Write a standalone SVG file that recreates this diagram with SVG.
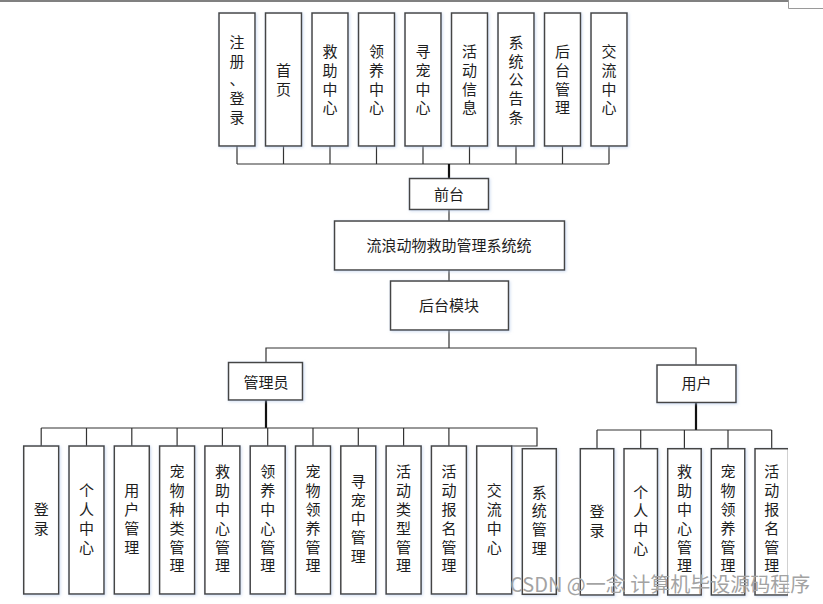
<svg xmlns="http://www.w3.org/2000/svg" width="823" height="604" viewBox="0 0 823 604">
<defs>
<filter id="sh" x="-20%" y="-20%" width="140%" height="140%">
<feDropShadow dx="1" dy="1" stdDeviation="1.6" flood-color="#a9c0e6" flood-opacity="0.55"/>
</filter>
<clipPath id="clipR"><rect x="0" y="0" width="788" height="604"/></clipPath>
</defs>
<style>
.b{fill:#ffffff;stroke:#454545;stroke-width:1.5;filter:url(#sh)}
.t{font-family:"Noto Sans CJK SC","Noto Sans CJK TC",sans-serif;font-size:15px;fill:#1e1e1e;text-anchor:middle}
.c{fill:none;stroke:#333;stroke-width:1.2}
.k{fill:none;stroke:#111;stroke-width:2.2}
.wm{font-family:"Noto Sans CJK SC","Noto Sans",sans-serif;font-size:20px;fill:#a3a3a3}
</style>
<rect width="823" height="604" fill="#ffffff"/>
<rect x="0" y="0" width="789" height="2" fill="#808080"/>
<path d="M788.5 0 V8.5 H823" fill="none" stroke="#9a9a9a" stroke-width="1"/>

<g id="connectors">
<path class="c" d="M237 146 V164 M283.5 146 V164 M330 146 V164 M376.5 146 V164 M423 146 V164 M469.5 146 V164 M516 146 V164 M562.5 146 V164 M609 146 V164 M237 164 H609"/>
<path class="k" d="M449 164 V178"/>
<path class="c" d="M449 209 V221 M449 270 V281 M449 330 V348 M266 362 V348 H696 V365"/>
<path class="k" d="M266 400 V428 M696 402 V430"/>
<path class="c" d="M41.2 428 H537 V446 H511 M41.2 428 V446 M86.5 428 V446 M131.8 428 V446 M177.1 428 V446 M222.4 428 V446 M267.7 428 V446 M313 428 V446 M358.3 428 V446 M403.6 428 V446 M448.9 428 V446"/>
<path class="c" d="M597 430 H771.7 M597 430 V448.7 M640.7 430 V448.7 M684.4 430 V448.7 M728 430 V448.7 M771.7 430 V448.7"/>
</g>

<g id="top-1"><rect class="b" x="219" y="13" width="36" height="133"/><text class="t"><tspan x="237" y="48">注</tspan><tspan x="237" y="66.7">册</tspan><tspan x="237" y="85.4">、</tspan><tspan x="237" y="104.1">登</tspan><tspan x="237" y="122.8">录</tspan></text></g>
<g id="top-2"><rect class="b" x="265.5" y="13" width="36" height="133"/><text class="t"><tspan x="283.5" y="76">首</tspan><tspan x="283.5" y="94.7">页</tspan></text></g>
<g id="top-3"><rect class="b" x="312" y="13" width="36" height="133"/><text class="t"><tspan x="330" y="57.3">救</tspan><tspan x="330" y="76">助</tspan><tspan x="330" y="94.7">中</tspan><tspan x="330" y="113.4">心</tspan></text></g>
<g id="top-4"><rect class="b" x="358.5" y="13" width="36" height="133"/><text class="t"><tspan x="376.5" y="57.3">领</tspan><tspan x="376.5" y="76">养</tspan><tspan x="376.5" y="94.7">中</tspan><tspan x="376.5" y="113.4">心</tspan></text></g>
<g id="top-5"><rect class="b" x="405" y="13" width="36" height="133"/><text class="t"><tspan x="423" y="57.3">寻</tspan><tspan x="423" y="76">宠</tspan><tspan x="423" y="94.7">中</tspan><tspan x="423" y="113.4">心</tspan></text></g>
<g id="top-6"><rect class="b" x="451.5" y="13" width="36" height="133"/><text class="t"><tspan x="469.5" y="57.3">活</tspan><tspan x="469.5" y="76">动</tspan><tspan x="469.5" y="94.7">信</tspan><tspan x="469.5" y="113.4">息</tspan></text></g>
<g id="top-7"><rect class="b" x="498" y="13" width="36" height="133"/><text class="t"><tspan x="516" y="48">系</tspan><tspan x="516" y="66.7">统</tspan><tspan x="516" y="85.4">公</tspan><tspan x="516" y="104.1">告</tspan><tspan x="516" y="122.8">条</tspan></text></g>
<g id="top-8"><rect class="b" x="544.5" y="13" width="36" height="133"/><text class="t"><tspan x="562.5" y="57.3">后</tspan><tspan x="562.5" y="76">台</tspan><tspan x="562.5" y="94.7">管</tspan><tspan x="562.5" y="113.4">理</tspan></text></g>
<g id="top-9"><rect class="b" x="591" y="13" width="36" height="133"/><text class="t"><tspan x="609" y="57.3">交</tspan><tspan x="609" y="76">流</tspan><tspan x="609" y="94.7">中</tspan><tspan x="609" y="113.4">心</tspan></text></g>

<g id="qiantai"><rect class="b" x="409.5" y="178.5" width="79" height="31"/><text class="t" x="449" y="199.5">前台</text></g>
<g id="system"><rect class="b" x="334.5" y="221" width="230" height="49"/><text class="t" x="449" y="251">流浪动物救助管理系统统</text></g>
<g id="houtai"><rect class="b" x="390.5" y="281" width="118" height="49"/><text class="t" x="449" y="311">后台模块</text></g>
<g id="admin"><rect class="b" x="228.5" y="362.5" width="74" height="37.5"/><text class="t" x="266" y="387.5">管理员</text></g>
<g id="user"><rect class="b" x="657" y="365" width="79" height="37.5"/><text class="t" x="696.5" y="389">用户</text></g>

<g id="a-1"><rect class="b" x="23.7" y="446" width="35" height="148"/><text class="t"><tspan x="41.2" y="515">登</tspan><tspan x="41.2" y="533.8">录</tspan></text></g>
<g id="a-2"><rect class="b" x="69" y="446" width="35" height="148"/><text class="t"><tspan x="86.5" y="496.2">个</tspan><tspan x="86.5" y="515">人</tspan><tspan x="86.5" y="533.8">中</tspan><tspan x="86.5" y="552.6">心</tspan></text></g>
<g id="a-3"><rect class="b" x="114.3" y="446" width="35" height="148"/><text class="t"><tspan x="131.8" y="496.2">用</tspan><tspan x="131.8" y="515">户</tspan><tspan x="131.8" y="533.8">管</tspan><tspan x="131.8" y="552.6">理</tspan></text></g>
<g id="a-4"><rect class="b" x="159.6" y="446" width="35" height="148"/><text class="t"><tspan x="177.1" y="477.4">宠</tspan><tspan x="177.1" y="496.2">物</tspan><tspan x="177.1" y="515">种</tspan><tspan x="177.1" y="533.8">类</tspan><tspan x="177.1" y="552.6">管</tspan><tspan x="177.1" y="571.4">理</tspan></text></g>
<g id="a-5"><rect class="b" x="204.9" y="446" width="35" height="148"/><text class="t"><tspan x="222.4" y="477.4">救</tspan><tspan x="222.4" y="496.2">助</tspan><tspan x="222.4" y="515">中</tspan><tspan x="222.4" y="533.8">心</tspan><tspan x="222.4" y="552.6">管</tspan><tspan x="222.4" y="571.4">理</tspan></text></g>
<g id="a-6"><rect class="b" x="250.2" y="446" width="35" height="148"/><text class="t"><tspan x="267.7" y="477.4">领</tspan><tspan x="267.7" y="496.2">养</tspan><tspan x="267.7" y="515">中</tspan><tspan x="267.7" y="533.8">心</tspan><tspan x="267.7" y="552.6">管</tspan><tspan x="267.7" y="571.4">理</tspan></text></g>
<g id="a-7"><rect class="b" x="295.5" y="446" width="35" height="148"/><text class="t"><tspan x="313" y="477.4">宠</tspan><tspan x="313" y="496.2">物</tspan><tspan x="313" y="515">领</tspan><tspan x="313" y="533.8">养</tspan><tspan x="313" y="552.6">管</tspan><tspan x="313" y="571.4">理</tspan></text></g>
<g id="a-8"><rect class="b" x="340.8" y="446" width="35" height="148"/><text class="t"><tspan x="358.3" y="486.8">寻</tspan><tspan x="358.3" y="505.6">宠</tspan><tspan x="358.3" y="524.4">中</tspan><tspan x="358.3" y="543.2">管</tspan><tspan x="358.3" y="562">理</tspan></text></g>
<g id="a-9"><rect class="b" x="386.1" y="446" width="35" height="148"/><text class="t"><tspan x="403.6" y="477.4">活</tspan><tspan x="403.6" y="496.2">动</tspan><tspan x="403.6" y="515">类</tspan><tspan x="403.6" y="533.8">型</tspan><tspan x="403.6" y="552.6">管</tspan><tspan x="403.6" y="571.4">理</tspan></text></g>
<g id="a-10"><rect class="b" x="431.4" y="446" width="35" height="148"/><text class="t"><tspan x="448.9" y="477.4">活</tspan><tspan x="448.9" y="496.2">动</tspan><tspan x="448.9" y="515">报</tspan><tspan x="448.9" y="533.8">名</tspan><tspan x="448.9" y="552.6">管</tspan><tspan x="448.9" y="571.4">理</tspan></text></g>
<g id="a-11"><rect class="b" x="476.7" y="446" width="35" height="148"/><text class="t"><tspan x="494.2" y="496.2">交</tspan><tspan x="494.2" y="515">流</tspan><tspan x="494.2" y="533.8">中</tspan><tspan x="494.2" y="552.6">心</tspan></text></g>
<g id="a-12"><rect class="b" x="522.3" y="448.7" width="34" height="145.6"/><text class="t"><tspan x="539.3" y="497.5">系</tspan><tspan x="539.3" y="516.3">统</tspan><tspan x="539.3" y="535.1">管</tspan><tspan x="539.3" y="553.9">理</tspan></text></g>

<g id="u-1"><rect class="b" x="580.3" y="448.7" width="33.5" height="146.3"/><text class="t"><tspan x="597" y="517">登</tspan><tspan x="597" y="535.8">录</tspan></text></g>
<g id="u-2"><rect class="b" x="624" y="448.7" width="33.5" height="146.3"/><text class="t"><tspan x="640.7" y="497.5">个</tspan><tspan x="640.7" y="516.3">人</tspan><tspan x="640.7" y="535.1">中</tspan><tspan x="640.7" y="553.9">心</tspan></text></g>
<g id="u-3"><rect class="b" x="667.7" y="448.7" width="33.5" height="146.3"/><text class="t"><tspan x="684.4" y="477.4">救</tspan><tspan x="684.4" y="496.2">助</tspan><tspan x="684.4" y="515">中</tspan><tspan x="684.4" y="533.8">心</tspan><tspan x="684.4" y="552.6">管</tspan><tspan x="684.4" y="571.4">理</tspan></text></g>
<g id="u-4"><rect class="b" x="711.3" y="448.7" width="33.5" height="146.3"/><text class="t"><tspan x="728" y="477.4">宠</tspan><tspan x="728" y="496.2">物</tspan><tspan x="728" y="515">领</tspan><tspan x="728" y="533.8">养</tspan><tspan x="728" y="552.6">管</tspan><tspan x="728" y="571.4">理</tspan></text></g>
<g id="u-5" clip-path="url(#clipR)"><rect class="b" x="755" y="448.7" width="33.5" height="146.3"/><text class="t"><tspan x="771.7" y="477.4">活</tspan><tspan x="771.7" y="496.2">动</tspan><tspan x="771.7" y="515">报</tspan><tspan x="771.7" y="533.8">名</tspan><tspan x="771.7" y="552.6">管</tspan><tspan x="771.7" y="571.4">理</tspan></text></g>

<text class="wm" x="510" y="592">CSDN @一念 计算机毕设源码程序</text>
</svg>
